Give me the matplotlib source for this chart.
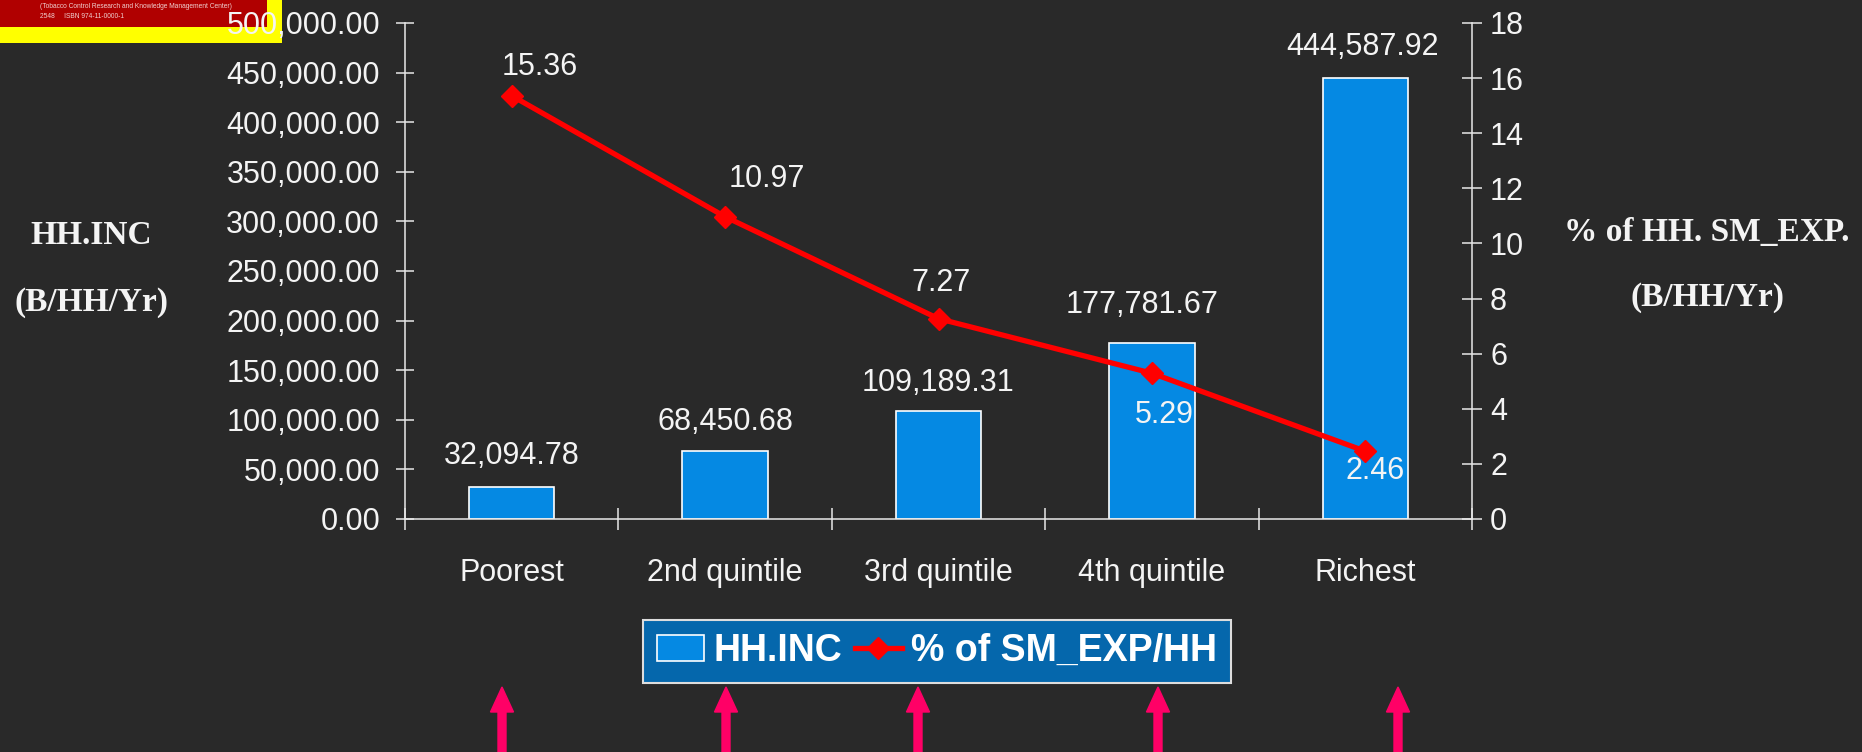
import matplotlib
matplotlib.use("Agg")
import matplotlib.pyplot as plt
from matplotlib import font_manager
from matplotlib.patches import Rectangle, FancyArrow
from matplotlib.lines import Line2D
from matplotlib.ticker import FuncFormatter, FixedLocator

# ---------------- data ----------------
categories = ["Poorest", "2nd quintile", "3rd quintile", "4th quintile", "Richest"]
hh_income = [32094.78, 68450.68, 109189.31, 177781.67, 444587.92]
sm_exp_pct = [15.36, 10.97, 7.27, 5.29, 2.46]
left_ticks = [0, 50000, 100000, 150000, 200000, 250000, 300000, 350000, 400000, 450000, 500000]
right_ticks = [0, 2, 4, 6, 8, 10, 12, 14, 16, 18]
bar_label_offsets = [(0, 22.3), (0, 20.9), (0, 20.2), (-7, 27.4), (-2, 22.3)]
line_label_offsets = [(20, 21), (30, 27.4), (1.5, 26), (8.6, -30), (7.2, -14.4)]

# ---------------- style ----------------
BG = "#292929"
BAR = "#0589E3"
RED = "#FF0000"
WHITE = "#F4F4F4"
SPINE = "#E8E8E8"
LEG_BG = "#0567AC"
PINK = "#FF0066"

available = {f.name for f in font_manager.fontManager.ttflist}
SANS = "Liberation Sans" if "Liberation Sans" in available else "DejaVu Sans"
SERIF = "Liberation Serif" if "Liberation Serif" in available else "DejaVu Serif"
if "Liberation Sans Narrow" in available:
    LEG_FONT, LEG_SIZE = "Liberation Sans Narrow", 31
else:
    LEG_FONT, LEG_SIZE = SANS, 27

plt.rcParams["font.family"] = [SANS, "DejaVu Sans"]
FS = 22

fig = plt.figure(figsize=(18.62, 7.52), dpi=100, facecolor=BG)
ax = fig.add_axes([405 / 1862, 1 - 519 / 752, (1472 - 405) / 1862, (519 - 23) / 752])
ax.set_facecolor(BG)
ax2 = ax.twinx()
ax2.patch.set_visible(False)

x = list(range(len(categories)))
ax.bar(x, hh_income, width=0.4, color=BAR, edgecolor="white", linewidth=1.2, zorder=2)
ax.set_xlim(-0.5, len(categories) - 0.5)
ax.set_ylim(0, 500000)
ax.yaxis.set_major_locator(FixedLocator(left_ticks))
ax.yaxis.set_major_formatter(FuncFormatter(lambda v, p: f"{v:,.2f}"))

ax.set_xticks(x)
ax.set_xticklabels(categories)
ax.set_xticks([i - 0.5 for i in range(len(categories) + 1)], minor=True)
ax.tick_params(axis="x", which="major", length=0, pad=28, labelsize=FS, labelcolor=WHITE)
ax.tick_params(axis="x", which="minor", direction="inout", length=16, width=1.1, color=SPINE)
ax.tick_params(axis="y", direction="inout", length=13, width=1.1, color=SPINE,
               pad=11.5, labelsize=FS, labelcolor=WHITE)

for i, v in enumerate(hh_income):
    ax.annotate(f"{v:,.2f}", (x[i], v), xytext=bar_label_offsets[i], textcoords="offset points",
                ha="center", va="center", fontsize=FS, color=WHITE)

ax2.plot(x, sm_exp_pct, color=RED, linewidth=3.8, marker="D", markersize=11,
         markerfacecolor=RED, markeredgecolor=RED, zorder=3)
ax2.set_ylim(0, 18)
ax2.yaxis.set_major_locator(FixedLocator(right_ticks))
ax2.tick_params(axis="y", direction="inout", length=14, width=1.1, color=SPINE,
                pad=6, labelsize=FS, labelcolor=WHITE)
for i, v in enumerate(sm_exp_pct):
    ax2.annotate(f"{v:.2f}", (x[i], v), xytext=line_label_offsets[i], textcoords="offset points",
                 ha="center", va="center", fontsize=FS, color=WHITE, zorder=4)

for a in (ax, ax2):
    for s in a.spines.values():
        s.set_color(SPINE)
        s.set_linewidth(1.1)
    a.spines["top"].set_visible(False)
ax.spines["right"].set_visible(False)
ax2.spines["left"].set_visible(False)
ax2.spines["bottom"].set_visible(False)

# axis titles
tfont = dict(family=SERIF, fontweight="bold", fontsize=24, color=WHITE, ha="center", va="center")
fig.text(91 / 1862, 1 - 235 / 752, "HH.INC", **tfont)
fig.text(91 / 1862, 1 - 302 / 752, "(B/HH/Yr)", **tfont)
fig.text(1707 / 1862, 1 - 233 / 752, "% of HH. SM_EXP.", **tfont)
fig.text(1707 / 1862, 1 - 298 / 752, "(B/HH/Yr)", **tfont)

# legend
handles = [Rectangle((0, 0), 1, 1, facecolor=BAR, edgecolor="white", linewidth=1.2),
           Line2D([], [], color=RED, linewidth=3.8, marker="D", markersize=11)]
leg = fig.legend(handles, ["HH.INC", "% of SM_EXP/HH"], loc="center",
                 bbox_to_anchor=(937 / 1862, 1 - 651 / 752), ncol=2,
                 prop=dict(family=LEG_FONT, weight="bold", size=LEG_SIZE),
                 frameon=True, fancybox=False, facecolor=LEG_BG, edgecolor="#DDDDDD",
                 framealpha=1, handlelength=1.25, handletextpad=0.25, columnspacing=0.35,
                 borderpad=0.36, borderaxespad=0)
leg.get_frame().set_linewidth(1.5)
for t in leg.get_texts():
    t.set_color("white")

# logo block (top-left)
fig.patches.append(Rectangle((0, 1 - 43 / 752), 282 / 1862, 43 / 752, transform=fig.transFigure,
                             facecolor="#FFFF00", edgecolor="none", zorder=-1))
fig.patches.append(Rectangle((0, 1 - 27 / 752), 267 / 1862, 27 / 752, transform=fig.transFigure,
                             facecolor="#B00000", edgecolor="none", zorder=-1))
fig.text(40 / 1862, 1 - 7 / 752, "(Tobacco Control Research and Knowledge Management Center)",
         fontsize=4.8, color="#F0D0D0", ha="left", va="center", zorder=-1)
fig.text(40 / 1862, 1 - 17 / 752, "2548     ISBN 974-11-0000-1",
         fontsize=4.8, color="#F0D0D0", ha="left", va="center", zorder=-1)

# pink arrows at the bottom
for px in [502, 726, 918, 1158, 1398]:
    fig.patches.append(FancyArrow(px / 100, 0.0, 0, 0.65, width=0.08, head_width=0.23,
                                  head_length=0.25, length_includes_head=True,
                                  transform=fig.dpi_scale_trans, color=PINK, zorder=1))

fig.savefig("out.png", dpi=100, facecolor=BG)
